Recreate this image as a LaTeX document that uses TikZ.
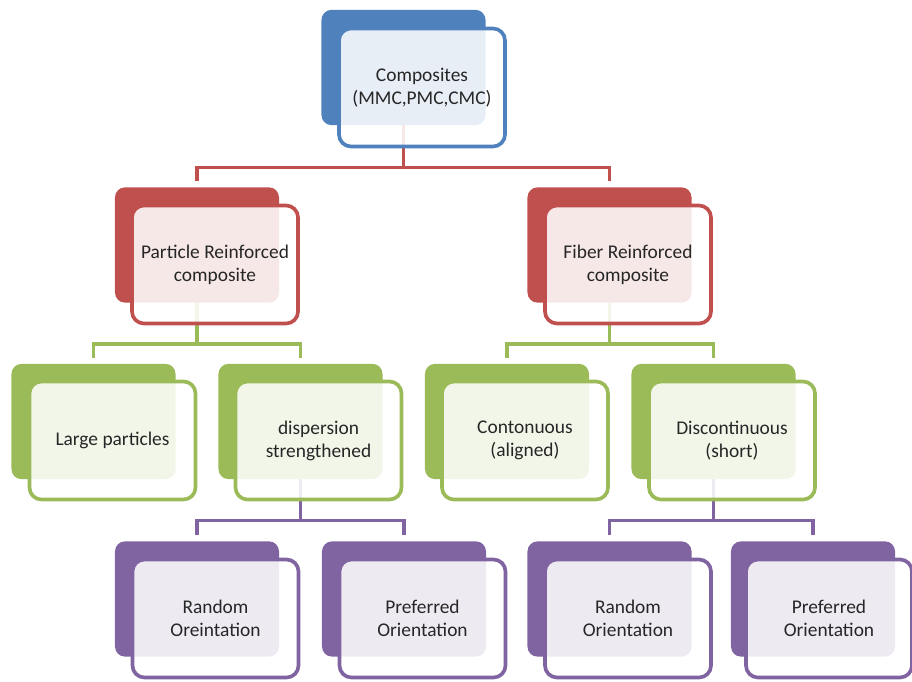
\documentclass[tikz,border=0pt]{standalone}
\usepackage{fontspec}
\setmainfont{Carlito}
\usetikzlibrary{positioning}
\definecolor{bluetier}{HTML}{4F81BD}
\definecolor{redtier}{HTML}{C0504D}
\definecolor{greentier}{HTML}{9BBB59}
\definecolor{purpletier}{HTML}{8064A2}
\tikzset{
    back/.style={rectangle, rounded corners=0.25cm, minimum width=4.1cm, minimum height=2.88cm, inner sep=0pt},
    front/.style={rectangle, rounded corners=0.3cm, line width=2.6pt, fill=white, fill opacity=0.87, text opacity=1, minimum width=4.15cm, minimum height=2.95cm, align=center, text=black!85, font=\fontsize{13.8}{16.4}\selectfont},
    link/.style={line width=2.4pt, shorten >=0.15cm}
}
\begin{document}
\begin{tikzpicture}[x=0.025cm, y=-0.025cm]
        \useasboundingbox (0,0) rectangle (912,682);
        % back plates
        \node[back, fill=bluetier] (comp) at (403.5,67.5) {};
        \node[back, fill=redtier] (part) at (197,245) {};
        \node[back, fill=redtier] (fiber) at (609.5,245) {};
        \node[back, fill=greentier] (large) at (93.5,421.5) {};
        \node[back, fill=greentier] (disp) at (300.5,421.5) {};
        \node[back, fill=greentier] (cont) at (507,421.5) {};
        \node[back, fill=greentier] (discont) at (713.5,421.5) {};
        \node[back, fill=purpletier] (randl) at (197,599) {};
        \node[back, fill=purpletier] (prefl) at (404,599) {};
        \node[back, fill=purpletier] (randr) at (609.5,599) {};
        \node[back, fill=purpletier] (prefr) at (813,599) {};
        % connectors
        \draw[link, redtier] (comp.south) -- ++(0,42) -| (part.north);
        \draw[link, redtier] (comp.south) -- ++(0,42) -| (fiber.north);
        \draw[link, greentier] (part.south) -- ++(0,41) -| (large.north);
        \draw[link, greentier] (part.south) -- ++(0,41) -| (disp.north);
        \draw[link, greentier] (fiber.south) -- ++(0,41) -| (cont.north);
        \draw[link, greentier] (fiber.south) -- ++(0,41) -| (discont.north);
        \draw[link, purpletier] (disp.south) -- ++(0,41) -| (randl.north);
        \draw[link, purpletier] (disp.south) -- ++(0,41) -| (prefl.north);
        \draw[link, purpletier] (discont.south) -- ++(0,41) -| (randr.north);
        \draw[link, purpletier] (discont.south) -- ++(0,41) -| (prefr.north);
        % front cards
        \node[front, draw=bluetier] (comp-f) at (422,87.5) {Composites\\(MMC,PMC,CMC)};
        \node[front, draw=redtier] (part-f) at (215,264.5) {Particle Reinforced\\composite};
        \node[front, draw=redtier] (fiber-f) at (628,264.5) {Fiber Reinforced\\composite};
        \node[front, draw=greentier] (large-f) at (112.5,440.5) {Large particles};
        \node[front, draw=greentier] (disp-f) at (318.5,440.5) {dispersion\\strengthened};
        \node[front, draw=greentier] (cont-f) at (525,440.5) {Contonuous\\(aligned)};
        \node[front, draw=greentier] (discont-f) at (732,440.5) {Discontinuous\\(short)};
        \node[front, draw=purpletier] (randl-f) at (215.5,618.5) {Random\\Oreintation};
        \node[front, draw=purpletier] (prefl-f) at (422.5,618.5) {Preferred\\Orientation};
        \node[front, draw=purpletier] (randr-f) at (628,618.5) {Random\\Orientation};
        \node[front, draw=purpletier] (prefr-f) at (829,618.5) {Preferred\\Orientation};
    \end{tikzpicture}
\end{document}
